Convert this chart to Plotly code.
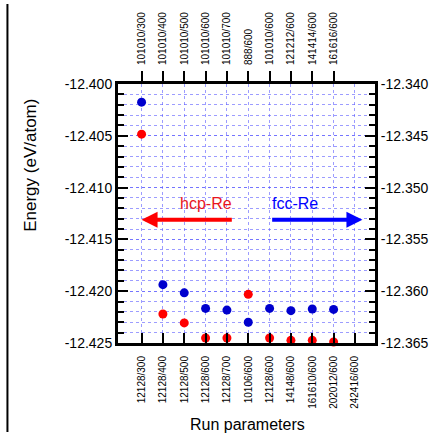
import plotly.graph_objects as go

# ---- data ----
bottom_labels = ["12128/300", "12128/400", "12128/500", "12128/600", "12128/700",
                 "10106/600", "12128/600", "14148/600", "161610/600", "202012/600",
                 "242416/600"]
top_labels = ["101010/300", "101010/400", "101010/500", "101010/600", "101010/700",
              "888/600", "101010/600", "121212/600", "141414/600", "161616/600"]

hcp_energy = [-12.40484, -12.42220, -12.42306, -12.42452, -12.42452,
              -12.42030, -12.42452, -12.42474, -12.42474, -12.42490]
fcc_energy = [-12.34175, -12.35937, -12.36016, -12.36166, -12.36182,
              -12.36300, -12.36166, -12.36188, -12.36172, -12.36176]

left_ticks = [-12.400, -12.405, -12.410, -12.415, -12.420, -12.425]
left_ticktext = ["-12.400", "-12.405", "-12.410", "-12.415", "-12.420", "-12.425"]
right_ticks = [-12.340, -12.345, -12.350, -12.355, -12.360, -12.365]
right_ticktext = ["-12.340", "-12.345", "-12.350", "-12.355", "-12.360", "-12.365"]

RED = "#FF0000"
BLUE = "#0000CD"
GRID = "rgba(90,90,255,0.6)"
FONT = "Liberation Sans, Arial, sans-serif"

fig = go.Figure()
fig.add_trace(go.Scatter(x=list(range(len(hcp_energy))), y=hcp_energy, mode="markers",
                         marker=dict(color=RED, size=9), xaxis="x", yaxis="y",
                         cliponaxis=False, showlegend=False))
fig.add_trace(go.Scatter(x=list(range(len(fcc_energy))), y=fcc_energy, mode="markers",
                         marker=dict(color=BLUE, size=9), xaxis="x2", yaxis="y2",
                         cliponaxis=False, showlegend=False))

xr = [-1.105, 10.94]
fig.update_layout(
    width=440, height=433, autosize=False,
    margin=dict(l=118, r=57, t=81, b=90),
    paper_bgcolor="white", plot_bgcolor="white",
    font=dict(family=FONT, color="black"),
    xaxis=dict(range=xr, tickmode="array", tickvals=list(range(len(bottom_labels))),
               ticktext=bottom_labels, tickangle=-90, tickfont=dict(size=10),
               ticks="inside", ticklen=10, tickwidth=2, tickcolor="black",
               ticklabelstandoff=6,
               showline=True, linewidth=3, linecolor="black",
               showgrid=True, gridcolor=GRID, griddash="dot", gridwidth=1,
               zeroline=False),
    xaxis2=dict(range=xr, overlaying="x", side="top", anchor="y", tickmode="array",
                tickvals=list(range(len(top_labels))), ticktext=top_labels,
                tickangle=-90, tickfont=dict(size=10),
                ticks="outside", ticklen=10, tickwidth=2, tickcolor="black",
                ticklabelstandoff=4,
                showline=True, linewidth=3, linecolor="black",
                showgrid=False, zeroline=False),
    yaxis=dict(range=[-12.425, -12.400], tickmode="array", tickvals=left_ticks,
               ticktext=left_ticktext, tickfont=dict(size=14),
               ticks="inside", ticklen=10, tickwidth=2, tickcolor="black",
               showline=True, linewidth=3, linecolor="black",
               showgrid=True, gridcolor=GRID, griddash="dot", gridwidth=1,
               zeroline=False,
               minor=dict(tickmode="linear", tick0=-12.425, dtick=0.001,
                          ticks="inside", ticklen=6, tickwidth=2, tickcolor="black",
                          showgrid=True, gridcolor=GRID, griddash="dot", gridwidth=1)),
    yaxis2=dict(range=[-12.365, -12.340], overlaying="y", side="right", anchor="x",
                tickmode="array", tickvals=right_ticks, ticktext=right_ticktext,
                tickfont=dict(size=14),
                ticks="inside", ticklen=10, tickwidth=2, tickcolor="black",
                showline=True, linewidth=3, linecolor="black",
                showgrid=False, zeroline=False,
                minor=dict(tickmode="linear", tick0=-12.365, dtick=0.001,
                           ticks="inside", ticklen=6, tickwidth=2, tickcolor="black",
                           showgrid=False)),
)

# arrows
fig.add_annotation(x=0.0, y=-12.4131, ax=4.3, ay=-12.4131, xref="x", yref="y",
                   axref="x", ayref="y", showarrow=True, arrowhead=2, arrowsize=0.8,
                   arrowwidth=4, arrowcolor=RED, text="")
fig.add_annotation(x=10.35, y=-12.4131, ax=6.05, ay=-12.4131, xref="x", yref="y",
                   axref="x", ayref="y", showarrow=True, arrowhead=2, arrowsize=0.8,
                   arrowwidth=4, arrowcolor="#0000FF", text="")
fig.add_annotation(x=3.0, y=-12.4115, xref="x", yref="y", text="hcp-Re",
                   showarrow=False, font=dict(size=16, color="#E8141E"))
fig.add_annotation(x=7.2, y=-12.4115, xref="x", yref="y", text="fcc-Re",
                   showarrow=False, font=dict(size=16, color="#0000FF"))

# axis titles
fig.add_annotation(x=(27 - 118) / 265, y=(343 - 163) / 262, xref="paper", yref="paper",
                   text="Energy (eV/atom)", textangle=-90, showarrow=False,
                   font=dict(size=17), xanchor="center", yanchor="middle")
fig.add_annotation(x=(252 - 118) / 265, y=(343 - 425) / 262, xref="paper", yref="paper",
                   text="Run parameters", showarrow=False,
                   font=dict(size=16), xanchor="center", yanchor="middle")

# left frame line
fig.add_shape(type="line", xref="paper", yref="paper",
              x0=(4 - 118) / 265, x1=(4 - 118) / 265,
              y0=(343 - 0) / 262, y1=(343 - 433) / 262,
              line=dict(color="black", width=2))

fig.write_html("out.html")
